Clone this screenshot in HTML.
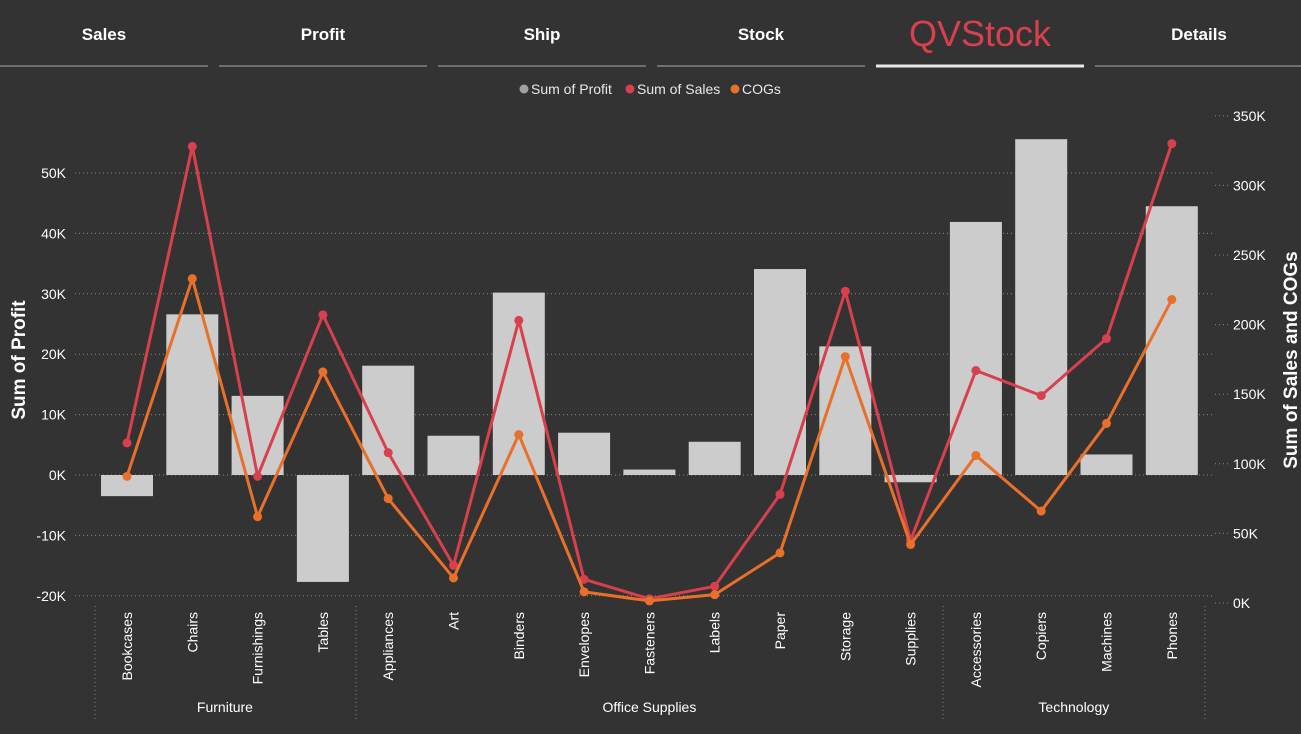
<!DOCTYPE html>
<html><head><meta charset="utf-8"><style>
body{margin:0;background:#333333;width:1301px;height:729px;overflow:hidden;font-family:"Liberation Sans",sans-serif}
</style></head><body>
<svg id="c" width="1301" height="729" xmlns="http://www.w3.org/2000/svg"></svg>
<script>
const categories=["Bookcases","Chairs","Furnishings","Tables","Appliances","Art","Binders","Envelopes","Fasteners","Labels","Paper","Storage","Supplies","Accessories","Copiers","Machines","Phones"];
const profit=[-3.5,26.6,13.1,-17.7,18.1,6.5,30.2,7.0,0.9,5.5,34.1,21.3,-1.2,41.9,55.6,3.4,44.5];
const sales=[115,328,91,207,108,27,203,17,3,12,78,224,45,167,149,190,330];
const cogs=[91,233,62,166,75,18,121,8,1.5,6,36,177,42,106,66,129,218];
const leftTicks=[-20,-10,0,10,20,30,40,50];
const rightTicks=[0,50,100,150,200,250,300,350];
const groups=[["Furniture",0,3],["Office Supplies",4,12],["Technology",13,16]];
const tabs=["Sales","Profit","Ship","Stock","QVStock","Details"];
const NS="http://www.w3.org/2000/svg",svg=document.getElementById("c");
function el(t,a,txt){const e=document.createElementNS(NS,t);for(const k in a)e.setAttribute(k,a[k]);if(txt!=null)e.textContent=txt;svg.appendChild(e);return e;}
const xC=i=>127+i*65.3;
const yL=v=>475-v*6.04;
const yR=v=>603-v*1.392;
// tabs
tabs.forEach((t,i)=>{const x0=i*219;const act=t==="QVStock";
 const l=el("line",{x1:x0+(i?0:0),x2:x0+208,y1:66,y2:66,stroke:act?"#e8e8e8":"#6e6e6e","stroke-width":act?3:2});
 
 const tx=el("text",{x:x0+104,y:act?46:40,"text-anchor":"middle",fill:act?"#d9404e":"#ffffff","font-size":act?36:17,"font-weight":act?"normal":"bold"},t);
 });
// legend
[["Sum of Profit","#a0a0a0",520],["Sum of Sales","#d9404e",626],["COGs","#e8702a",731]].forEach(([n,c,x])=>{
 const d=el("circle",{cx:x+4,cy:89,r:4.5,fill:c});
 const t=el("text",{x:x+11,y:94,fill:"#e8e8e8","font-size":14},n);});
// grid & ticks
leftTicks.forEach(v=>{const y=yL(v);
 const g=el("line",{x1:75,x2:1215,y1:y,y2:y,stroke:"#8a8a8a","stroke-dasharray":"1,3"});
 const t=el("text",{x:66,y:y+5,"text-anchor":"end",fill:"#ffffff","font-size":14},v+"K");});
rightTicks.forEach(v=>{const y=yR(v);
 const g=el("line",{x1:1215,x2:1228,y1:y,y2:y,stroke:"#8a8a8a","stroke-dasharray":"1,3"});
 const t=el("text",{x:1233,y:y+5,fill:"#ffffff","font-size":14},v+"K");});
let t1=el("text",{transform:"translate(25,360) rotate(-90)","text-anchor":"middle",fill:"#ffffff","font-size":19,"font-weight":"bold"},"Sum of Profit");

let t2=el("text",{transform:"translate(1297,360) rotate(-90)","text-anchor":"middle",fill:"#ffffff","font-size":19,"font-weight":"bold"},"Sum of Sales and COGs");

// bars
profit.forEach((v,i)=>{const y0=yL(0),y1=yL(v);
 const r=el("rect",{x:xC(i)-26,y:Math.min(y0,y1),width:52,height:Math.abs(y1-y0),fill:"#cccccc"});
 });
// lines
[[sales,"#d9404e","sales"],[cogs,"#e8702a","cogs"]].forEach(([arr,c,n])=>{
 const p=el("polyline",{points:arr.map((v,i)=>xC(i)+","+yR(v)).join(" "),fill:"none",stroke:c,"stroke-width":3,"stroke-linejoin":"round"});
 
 arr.forEach((v,i)=>{const d=el("circle",{cx:xC(i),cy:yR(v),r:4.5,fill:c});});});
// category labels
categories.forEach((c,i)=>{const t=el("text",{transform:`translate(${xC(i)+5},612) rotate(-90)`,"text-anchor":"end",fill:"#ffffff","font-size":14},c);
 });
// group dividers and labels
[95,356,943,1205].forEach(x=>{const l=el("line",{x1:x,x2:x,y1:606,y2:720,stroke:"#8a8a8a","stroke-dasharray":"1,3"});});
groups.forEach(([n,a,b])=>{const t=el("text",{x:(xC(a)+xC(b))/2,y:712,"text-anchor":"middle",fill:"#ffffff","font-size":14},n);
 });
</script>
</body></html>
